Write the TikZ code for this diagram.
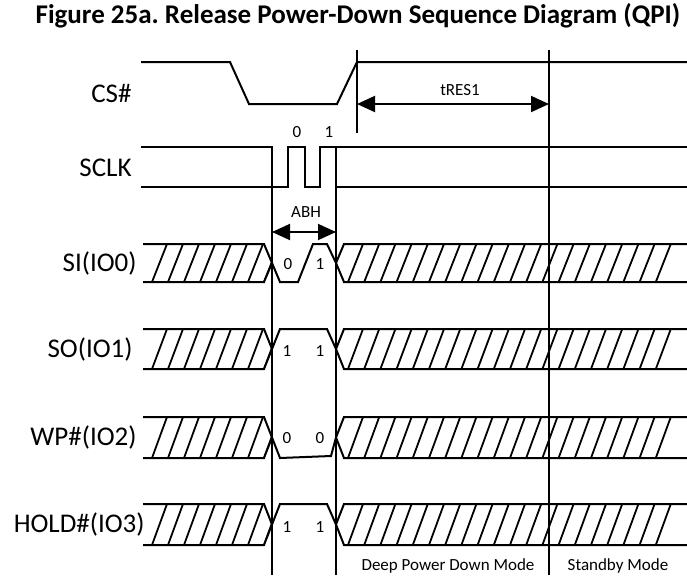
\documentclass[tikz,border=0pt]{standalone}
\usepackage{fontspec}
\setmainfont{Carlito}
\usepackage{tikz}
\usetikzlibrary{arrows.meta}
\frenchspacing

\tikzset{
  wave/.style={line width=1pt, line join=miter},
  guide/.style={line width=1pt},
  hatch/.style={line width=0.9pt},
  span/.style={line width=1pt, {Triangle[length=9pt,width=8pt]}-{Triangle[length=9pt,width=8pt]}},
  siglabel/.style={anchor=east, inner sep=0pt, font=\fontsize{13.5}{16}\selectfont},
  bitlabel/.style={inner sep=0pt, font=\fontsize{8.5}{10}\selectfont},
}

\begin{document}
\begin{tikzpicture}[x=0.5pt, y=-0.5pt]
    \useasboundingbox (0,0) rectangle (687,575);
    \node[font=\bfseries\fontsize{13.5}{16}\selectfont, inner sep=0pt] (title) at (358,16) {Figure 25a. Release Power-Down Sequence Diagram (QPI)};

    % signal names
    \node[siglabel] (cs)   at (132,93)  {CS\#};
    \node[siglabel] (sclk) at (132,168) {SCLK};
    \node[siglabel] (io0)  at (137,263) {SI(IO0)};
    \node[siglabel] (io1)  at (133,349) {SO(IO1)};
    \node[siglabel] (io2)  at (137,437) {WP\#(IO2)};
    \node[siglabel] (io3)  at (145,524) {HOLD\#(IO3)};

    % guide lines
    \draw[guide] (357,50) -- (357,133);
    \draw[guide] (549,50) -- (549,575);
    \draw[guide] (272,147) -- (272,575);
    \draw[guide] (336,147) -- (336,575);

    % CS# and SCLK
    \draw[wave] (141,62) -- (230,62) -- (249,104) -- (337,104) -- (357,62) -- (687,62);
    \draw[wave] (141,147) -- (272,147) -- (272,187) -- (288,187) -- (288,147) -- (305,147)
      -- (305,187) -- (320,187) -- (320,147) -- (687,147);
    \draw[wave] (141,187) -- (272,187);
    \draw[wave] (336,187) -- (687,187);
    \node[bitlabel] (clk0) at (297,132) {0};
    \node[bitlabel] (clk1) at (329,132) {1};

    % timing spans
    \coordinate (csup)    at (357,104);
    \coordinate (standby) at (549,104);
    \draw[span] (csup) -- (standby);
    \node[bitlabel] (tres) at (460,90) {tRES1};
    \coordinate (abhl) at (272,232);
    \coordinate (abhr) at (336,232);
    \draw[span] (abhl) -- (abhr);
    \node[bitlabel] (abh) at (306,212) {ABH};

    % IO buses, hatched where don't care
    \foreach \t/\b in {244/282, 329/369, 417/458, 504/545} {
      \pgfmathsetmacro\m{(\t+\b)/2}
      \draw[wave] (143,\t) -- (264,\t) -- (272,\m) -- (264,\b) -- (143,\b);
      \draw[wave] (687,\t) -- (344,\t) -- (336,\m) -- (344,\b) -- (687,\b);
      \begin{scope}
        \clip (143,\t) -- (264,\t) -- (272,\m) -- (264,\b) -- (143,\b) -- cycle;
        \foreach \x in {152,168,...,264} \draw[hatch] (\x,\b) -- (\x+15,\t);
      \end{scope}
      \begin{scope}
        \clip (687,\t) -- (344,\t) -- (336,\m) -- (344,\b) -- (687,\b) -- cycle;
        \foreach \x in {348,364.2,...,660} \draw[hatch] (\x,\b) -- (\x+15,\t);
      \end{scope}
    }

    % data bits
    \draw[wave] (272,263) -- (280,282) -- (298,282) -- (313,244) -- (327,244) -- (336,263);
    \draw[wave] (272,349) -- (280,329) -- (327,329) -- (336,349);
    \draw[wave] (272,437.5) -- (280,458) -- (331,456) -- (336,437.5);
    \draw[wave] (272,524.5) -- (280,504) -- (327,504) -- (336,524.5);
    \node[bitlabel] (si0) at (288,264) {0};
    \node[bitlabel] (si1) at (320,264) {1};
    \node[bitlabel] (so0) at (287,351) {1};
    \node[bitlabel] (so1) at (320,351) {1};
    \node[bitlabel] (wp0) at (287,438) {0};
    \node[bitlabel] (wp1) at (320,438) {0};
    \node[bitlabel] (hd0) at (287,527) {1};
    \node[bitlabel] (hd1) at (320,527) {1};

    % modes
    \node[bitlabel] (deep) at (448,566) {Deep Power Down Mode};
    \node[bitlabel] (stby) at (618,566) {Standby Mode};
  \end{tikzpicture}
\end{document}
